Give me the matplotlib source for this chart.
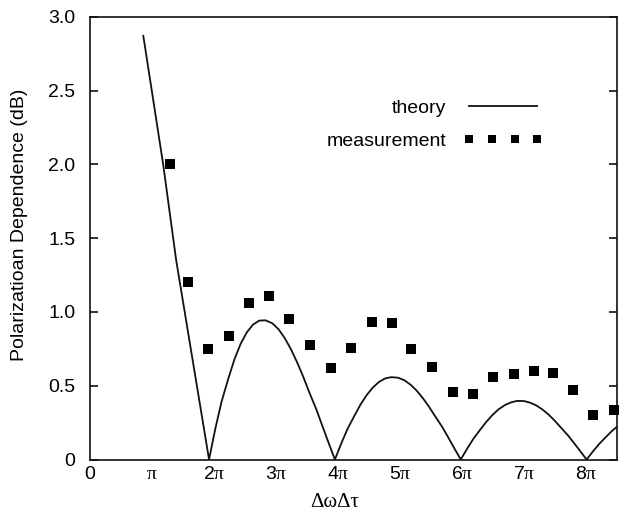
"""Polarization dependence vs. differential delay: theory curve and measured points.

Run: python3 plot.py  ->  out.png
"""

import matplotlib
matplotlib.use("Agg")
import matplotlib.pyplot as plt
from matplotlib.ticker import FixedLocator, FixedFormatter

INK = "#111111"

plt.rcParams.update({
    "font.family": "Liberation Sans",
    "font.size": 14,
    "mathtext.fontset": "custom",
    "mathtext.rm": "Liberation Sans",
    "mathtext.it": "Liberation Serif",
    "axes.linewidth": 1.2,
    "axes.edgecolor": INK,
})

# x in units of pi, y in dB
theory_x = [0.86, 1.18, 1.39, 1.92,
            2.02, 2.12, 2.23, 2.33, 2.43, 2.53, 2.63, 2.73, 2.83, 2.94,
            3.04, 3.14, 3.24, 3.34, 3.44, 3.54, 3.65, 3.75, 3.85, 3.95,
            4.05, 4.15, 4.26, 4.36, 4.46, 4.56, 4.66, 4.76, 4.86, 4.97,
            5.07, 5.17, 5.27, 5.37, 5.47, 5.57, 5.68, 5.78, 5.88, 5.98,
            6.08, 6.18, 6.29, 6.39, 6.49, 6.59, 6.69, 6.79, 6.89, 7.00,
            7.10, 7.20, 7.30, 7.40, 7.50, 7.60, 7.71, 7.81, 7.91, 8.01,
            8.11, 8.21, 8.32, 8.42, 8.50]
theory_y = [2.87, 2.00, 1.35, 0.00,
            0.206, 0.389, 0.547, 0.679, 0.784, 0.862, 0.914, 0.941, 0.943, 0.923,
            0.883, 0.823, 0.748, 0.659, 0.560, 0.452, 0.340, 0.225, 0.111, 0.00,
            0.106, 0.204, 0.293, 0.370, 0.435, 0.487, 0.525, 0.549, 0.558, 0.554,
            0.537, 0.507, 0.466, 0.415, 0.356, 0.291, 0.221, 0.148, 0.073, 0.00,
            0.071, 0.138, 0.200, 0.254, 0.301, 0.340, 0.368, 0.387, 0.397, 0.396,
            0.385, 0.366, 0.338, 0.303, 0.261, 0.214, 0.163, 0.110, 0.055, 0.00,
            0.054, 0.104, 0.152, 0.194, 0.222]

meas_x = [1.29, 1.585, 1.898, 2.247, 2.569, 2.892, 3.210, 3.548, 3.882,
          4.205, 4.556, 4.866, 5.177, 5.516, 5.860, 6.173, 6.500, 6.839,
          7.161, 7.473, 7.795, 8.118, 8.452]
meas_y = [2.00, 1.205, 0.749, 0.837, 1.058, 1.110, 0.950, 0.776, 0.622,
          0.757, 0.930, 0.927, 0.749, 0.629, 0.459, 0.446, 0.557, 0.579,
          0.598, 0.586, 0.469, 0.304, 0.337]

x_ticks = [0, 1, 2, 3, 4, 5, 6, 7, 8]
x_labels = ["0", r"$\pi$", r"$2\pi$", r"$3\pi$", r"$4\pi$",
            r"$5\pi$", r"$6\pi$", r"$7\pi$", r"$8\pi$"]
y_ticks = [0, 0.5, 1.0, 1.5, 2.0, 2.5, 3.0]
y_labels = ["0", "0.5", "1.0", "1.5", "2.0", "2.5", "3.0"]


def main():
    fig = plt.figure(figsize=(6.24, 5.13), dpi=100)
    fig.subplots_adjust(left=90 / 624, right=617 / 624,
                        bottom=1 - 459.5 / 513, top=1 - 16.7 / 513)
    ax = fig.add_subplot(111)

    ax.plot(theory_x, theory_y, "-", color=INK, lw=1.3, label="theory")
    ax.plot(meas_x, meas_y, "s", color="black", ms=7.6, mew=0,
            clip_on=False, zorder=3, label="measurement")

    ax.set_xlim(0, 8.5)
    ax.set_ylim(0, 3.0)

    ax.xaxis.set_major_locator(FixedLocator(x_ticks))
    ax.xaxis.set_major_formatter(FixedFormatter(x_labels))
    ax.yaxis.set_major_locator(FixedLocator(y_ticks))
    ax.yaxis.set_major_formatter(FixedFormatter(y_labels))
    ax.tick_params(axis="x", length=0, pad=4.5, labelsize=14)
    ax.tick_params(axis="y", direction="in", length=6, width=1.2,
                   color=INK, right=True, pad=10.5, labelsize=14)

    ax.set_ylabel("Polarizatioan Dependence (dB)", fontsize=14)
    ax.yaxis.set_label_coords(-0.118, 0.53)
    ax.set_xlabel("ΔωΔτ", fontsize=15, family="Liberation Serif")
    ax.xaxis.set_label_coords(0.465, -0.075)

    ax.legend(loc="center right", bbox_to_anchor=(0.86, 0.757),
              frameon=False, markerfirst=False, numpoints=4,
              handlelength=4.1, handletextpad=0.9, labelspacing=0.8,
              borderpad=0, borderaxespad=0, markerscale=0.84, fontsize=14)

    fig.savefig("out.png", dpi=100)
    plt.close(fig)


if __name__ == "__main__":
    main()
